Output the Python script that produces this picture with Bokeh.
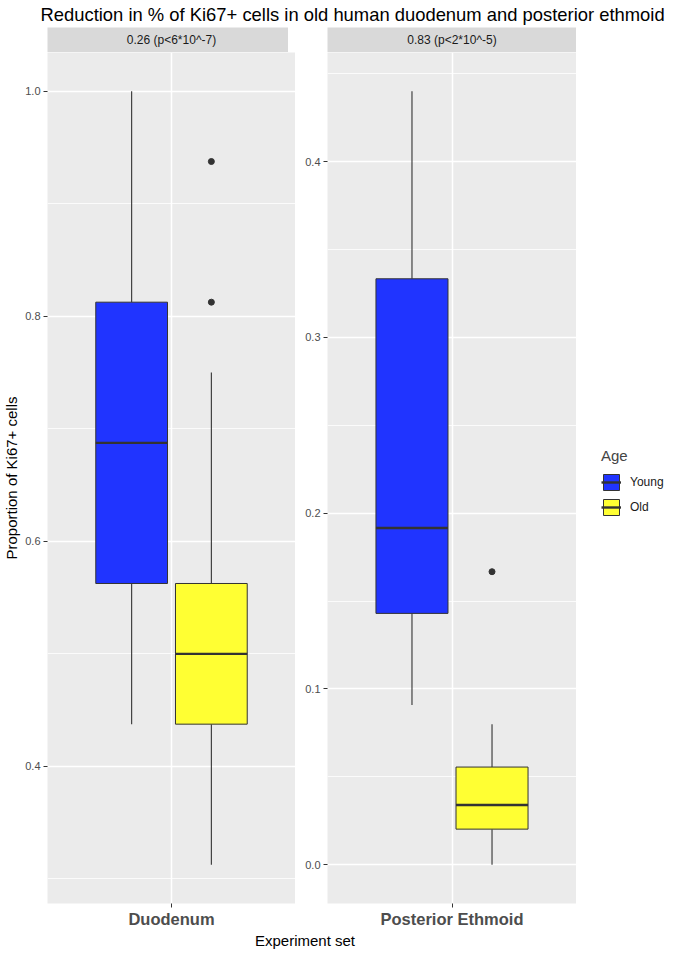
from bokeh.plotting import figure
from bokeh.models import (ColumnDataSource, Range1d, FactorRange, FixedTicker,
                          Legend, LegendItem, PrintfTickFormatter)
from bokeh.transform import dodge
from bokeh.layouts import column, row
from bokeh.embed import file_html
from bokeh.resources import INLINE
from bokeh.core.properties import value

# ---------------- data ----------------
title_text = "Reduction in % of Ki67+ cells in old human duodenum and posterior ethmoid"
groups = ["Duodenum", "Posterior Ethmoid"]
strip_labels = ["0.26 (p<6*10^-7)", "0.83 (p<2*10^-5)"]
ages = ["Young", "Old"]
y_title = "Proportion of Ki67+ cells"
x_title = "Experiment set"
legend_title = "Age"

young_low = [0.4375, 0.0909]
young_q1 = [0.5625, 0.1430]
young_med = [0.6875, 0.1916]
young_q3 = [0.8125, 0.3333]
young_high = [1.0000, 0.4400]

old_low = [0.3125, 0.0000]
old_q1 = [0.4375, 0.0203]
old_med = [0.5000, 0.0340]
old_q3 = [0.5625, 0.0556]
old_high = [0.7500, 0.0800]

old_outlier_group = ["Duodenum", "Duodenum", "Posterior Ethmoid"]
old_outlier_value = [0.9375, 0.8125, 0.1667]

y_major_ticks = [[0.4, 0.6, 0.8, 1.0], [0.0, 0.1, 0.2, 0.3, 0.4]]
y_minor_ticks = [[0.3, 0.5, 0.7, 0.9], [0.05, 0.15, 0.25, 0.35, 0.45]]

# ---------------- style ----------------
FONT = "Liberation Sans"
FILL = {"Young": "#2034FF", "Old": "#FFFF33"}
DARK = "#333333"
PANEL_BG = "#EBEBEB"
STRIP_BG = "#D9D9D9"
LEFT = [40, 32]
FW = [248, 249]
HP = 851
STRIP_H = 25
TITLE_H = 27
XAX_H = 25
XLAB_H = 19
LEGEND_W = 100
DODGE = 0.225
BOXW = 0.405
MED_W = 2.4

stats = {
    "Young": dict(low=young_low, q1=young_q1, med=young_med, q3=young_q3, high=young_high),
    "Old": dict(low=old_low, q1=old_q1, med=old_med, q3=old_q3, high=old_high),
}


def make_panel(i):
    g = groups[i]
    vals = []
    for a in ages:
        for k in ("low", "q1", "med", "q3", "high"):
            vals.append(stats[a][k][i])
    vals += [v for gg, v in zip(old_outlier_group, old_outlier_value) if gg == g]
    lo, hi = min(vals), max(vals)
    pad = 0.05 * (hi - lo)

    p = figure(x_range=FactorRange(factors=[g], range_padding=0.2, range_padding_units="absolute"),
               y_range=Range1d(lo - pad, hi + pad),
               frame_width=FW[i], frame_height=HP,
               min_border_left=LEFT[i], min_border_right=0, min_border_top=0,
               min_border_bottom=XAX_H,
               output_backend="svg", toolbar_location=None,
               background_fill_color=PANEL_BG, border_fill_color="white", outline_line_color=None)

    for a, off in zip(ages, (-DODGE, DODGE)):
        s = stats[a]
        src = ColumnDataSource(dict(x=[g], low=[s["low"][i]], q1=[s["q1"][i]], med=[s["med"][i]],
                                    q3=[s["q3"][i]], high=[s["high"][i]]))
        xc = dodge("x", off, range=p.x_range)
        p.segment(x0=xc, y0="q3", x1=xc, y1="high", source=src, line_color=DARK, line_width=1.1)
        p.segment(x0=xc, y0="q1", x1=xc, y1="low", source=src, line_color=DARK, line_width=1.1)
        p.vbar(x=xc, width=BOXW, bottom="q1", top="q3", source=src,
               fill_color=FILL[a], line_color=DARK, line_width=1)
        p.segment(x0=dodge("x", off - BOXW / 2, range=p.x_range), y0="med",
                  x1=dodge("x", off + BOXW / 2, range=p.x_range), y1="med",
                  source=src, line_color=DARK, line_width=MED_W)

    oy = [v for gg, v in zip(old_outlier_group, old_outlier_value) if gg == g]
    osrc = ColumnDataSource(dict(x=[g] * len(oy), y=oy))
    p.scatter(x=dodge("x", DODGE, range=p.x_range), y="y", source=osrc, size=6,
              fill_color=DARK, line_color=DARK)

    ticker = FixedTicker(ticks=y_major_ticks[i], minor_ticks=y_minor_ticks[i])
    p.yaxis.ticker = ticker
    p.ygrid.ticker = ticker
    p.yaxis.formatter = PrintfTickFormatter(format="%.1f")
    for ax in (p.xaxis, p.yaxis):
        ax.axis_line_color = None
        ax.major_tick_line_color = DARK
        ax.major_tick_out = 4
        ax.major_tick_in = 0
        ax.minor_tick_out = 0
        ax.minor_tick_in = 0
        ax.minor_tick_line_color = None
        ax.major_label_text_font = FONT
        ax.major_label_text_color = "#4D4D4D"
    p.yaxis.major_label_text_font_size = "11px"
    p.yaxis.major_label_standoff = 3
    p.xaxis.major_label_text_font_size = "16.5px"
    p.xaxis.major_label_text_font_style = "bold"
    p.xaxis.major_label_standoff = 2

    p.ygrid.grid_line_color = "white"
    p.ygrid.grid_line_width = 1.5
    p.ygrid.minor_grid_line_color = "white"
    p.ygrid.minor_grid_line_width = 0.8
    p.xgrid.grid_line_color = "white"
    p.xgrid.grid_line_width = 1.5

    if i == 0:
        p.yaxis.axis_label = y_title
        p.yaxis.axis_label_text_font = FONT
        p.yaxis.axis_label_text_font_size = "15px"
        p.yaxis.axis_label_text_font_style = "normal"
        p.yaxis.axis_label_text_color = "black"
        p.yaxis.axis_label_standoff = 2
    return p


def blank_fig(fw, fh, left=0):
    f = figure(x_range=Range1d(0, 1), y_range=Range1d(0, 1),
               frame_width=fw, frame_height=fh,
               min_border_left=left, min_border_right=0, min_border_top=0, min_border_bottom=0,
               x_axis_type=None, y_axis_type=None, output_backend="svg", toolbar_location=None,
               outline_line_color=None, background_fill_color="white", border_fill_color="white")
    f.grid.visible = False
    return f


def make_strip(i):
    s = blank_fig(FW[i], STRIP_H, LEFT[i])
    s.background_fill_color = STRIP_BG
    s.text(x=[0.5], y=[0.5], text=[strip_labels[i]], text_align="center", text_baseline="middle",
           text_font=value(FONT), text_font_size="12px", text_color="#1A1A1A")
    return s


p1 = make_panel(0)
p2 = make_panel(1)
s1 = make_strip(0)
s2 = make_strip(1)

# legend panel: the keys are drawn by Bokeh's Legend from hidden copies of the
# Posterior Ethmoid box glyphs (same data, not shown in this blank panel)
leg_fig = blank_fig(LEGEND_W, STRIP_H + HP)
items = []
for a in ages:
    s = stats[a]
    ksrc = ColumnDataSource(dict(x=[0.5], q1=[s["q1"][1]], med=[s["med"][1]], q3=[s["q3"][1]]))
    kb = leg_fig.vbar(x="x", width=0.1, bottom="q1", top="q3", source=ksrc,
                      fill_color=FILL[a], line_color=DARK, line_width=1, visible=False)
    km = leg_fig.segment(x0="x", y0="med", x1="x", y1="med", source=ksrc,
                         line_color=DARK, line_width=MED_W, visible=False)
    items.append(LegendItem(label=a, renderers=[kb, km]))
legend = Legend(items=items, title=legend_title, location=(25, 386),
                title_text_font=FONT, title_text_font_size="15px", title_text_font_style="normal",
                label_text_font=FONT, label_text_font_size="12px", label_text_color="#1A1A1A",
                glyph_width=20, glyph_height=20, spacing=5, label_standoff=9,
                padding=0, margin=0, border_line_color=None, background_fill_alpha=0,
                inactive_fill_alpha=0, title_standoff=8)
leg_fig.add_layout(legend, "center")

title_fig = blank_fig(629, TITLE_H, LEFT[0])
title_fig.text(x=[0], y=[0.5], text=[title_text], text_align="left", text_baseline="middle",
               text_font=value(FONT), text_font_size="18.4px", text_color="black")

xlab_fig = blank_fig(FW[0] + LEFT[1] + FW[1], XLAB_H, LEFT[0])
xlab_fig.text(x=[0.5], y=[0.5], text=[x_title], text_align="center", text_baseline="middle",
              text_font=value(FONT), text_font_size="15px", text_color="black")

layout = column(title_fig,
                row(column(s1, p1), column(s2, p2), leg_fig),
                xlab_fig)

open("out.html", "w").write(file_html(layout, INLINE))
